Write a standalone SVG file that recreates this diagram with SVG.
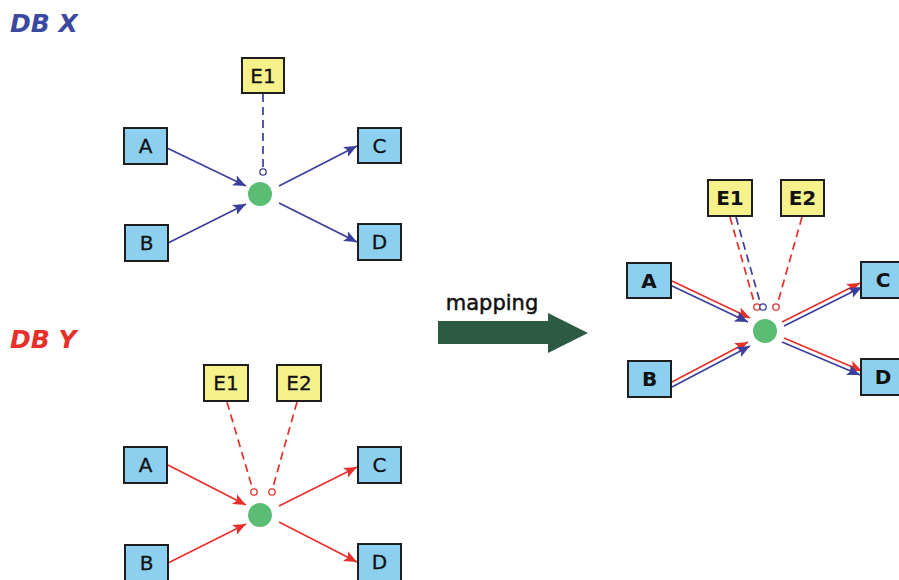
<svg xmlns="http://www.w3.org/2000/svg" width="899" height="580" viewBox="0 0 899 580">
<style>
.box{fill:#8ccfee;stroke:#1e1e1e;stroke-width:2}
.ebox{fill:#f6f18b;stroke:#1e1e1e;stroke-width:2}
.lbl{font-family:"DejaVu Sans",sans-serif;font-size:20px;fill:#111;text-anchor:middle;stroke:#111;stroke-width:0.3}
.rl{font-weight:bold;stroke:none}
.hub{fill:#5bbd73}
.bl{stroke:#3a3f9c;stroke-width:1.7;fill:none}
.rd{stroke:#e8302a;stroke-width:1.7;fill:none}
.dash{stroke-dasharray:8,5}
.oc{fill:#fff;stroke-width:1.3}
.title{font-family:"DejaVu Sans",sans-serif;font-size:25px;font-weight:bold;font-style:italic}
</style>
<defs>
<marker id="ab" markerUnits="userSpaceOnUse" markerWidth="15" markerHeight="11" refX="13" refY="5.5" orient="auto"><path d="M0,0 L13,5.5 L0,11 L3,5.5 Z" fill="#3a3f9c"/></marker>
<marker id="ar" markerUnits="userSpaceOnUse" markerWidth="15" markerHeight="11" refX="13" refY="5.5" orient="auto"><path d="M0,0 L13,5.5 L0,11 L3,5.5 Z" fill="#e8302a"/></marker>
</defs>

<text class="title" x="10" y="32" fill="#3b4aa0">DB X</text>
<text class="title" x="10" y="348" fill="#e8302a">DB Y</text>

<g id="connectors">
<!-- DB X -->
<line class="bl dash" x1="263" y1="94" x2="263" y2="168"/>
<circle class="bl oc" cx="263" cy="172" r="3.2"/>
<line class="bl" x1="167" y1="148" x2="246" y2="186" marker-end="url(#ab)"/>
<line class="bl" x1="168" y1="243" x2="246" y2="204" marker-end="url(#ab)"/>
<line class="bl" x1="279" y1="186" x2="357" y2="146" marker-end="url(#ab)"/>
<line class="bl" x1="279" y1="203" x2="357" y2="242" marker-end="url(#ab)"/>
<!-- DB Y -->
<line class="rd dash" x1="227" y1="402" x2="252" y2="487"/>
<line class="rd dash" x1="297" y1="402" x2="273" y2="487"/>
<circle class="rd oc" cx="254" cy="492" r="3.2"/>
<circle class="rd oc" cx="272" cy="492" r="3.2"/>
<line class="rd" x1="168" y1="465" x2="246" y2="505" marker-end="url(#ar)"/>
<line class="rd" x1="168" y1="563" x2="246" y2="524" marker-end="url(#ar)"/>
<line class="rd" x1="279" y1="506" x2="357" y2="467" marker-end="url(#ar)"/>
<line class="rd" x1="279" y1="522" x2="357" y2="562" marker-end="url(#ar)"/>
<!-- merged -->
<line class="rd dash" x1="730" y1="217" x2="754" y2="302"/>
<line class="bl dash" x1="736" y1="217" x2="760" y2="302"/>
<line class="rd dash" x1="802" y1="217" x2="778" y2="302"/>
<circle class="rd oc" cx="757" cy="307" r="3.2"/>
<circle class="bl oc" cx="763" cy="307" r="3.2"/>
<circle class="rd oc" cx="776" cy="307" r="3.2"/>
<line class="rd" x1="672" y1="281" x2="750" y2="318" marker-end="url(#ar)"/>
<line class="bl" x1="670" y1="285" x2="748" y2="322" marker-end="url(#ab)"/>
<line class="rd" x1="670" y1="383" x2="748" y2="342" marker-end="url(#ar)"/>
<line class="bl" x1="672" y1="387" x2="750" y2="346" marker-end="url(#ab)"/>
<line class="rd" x1="782" y1="322" x2="860" y2="283" marker-end="url(#ar)"/>
<line class="bl" x1="784" y1="326" x2="862" y2="287" marker-end="url(#ab)"/>
<line class="rd" x1="784" y1="338" x2="862" y2="371" marker-end="url(#ar)"/>
<line class="bl" x1="782" y1="342" x2="860" y2="375" marker-end="url(#ab)"/>
</g>

<g id="mapping">
<text x="492" y="310" font-family="DejaVu Sans,sans-serif" font-size="21" fill="#111" stroke="#111" stroke-width="0.5" text-anchor="middle">mapping</text>
<path d="M438,321 L548,321 L548,313 L588,333 L548,353 L548,344 L438,344 Z" fill="#2c5a42"/>
</g>

<!-- DB X nodes -->
<g id="x-hub"><circle class="hub" cx="260" cy="194" r="12"/></g>
<g id="x-E1"><rect class="ebox" x="242" y="58" width="42" height="35"/><text class="lbl" x="263" y="83">E1</text></g>
<g id="x-A"><rect class="box" x="124" y="128" width="43" height="36"/><text class="lbl" x="145.5" y="153">A</text></g>
<g id="x-B"><rect class="box" x="125" y="225" width="43" height="36"/><text class="lbl" x="146.5" y="250">B</text></g>
<g id="x-C"><rect class="box" x="358" y="128" width="43" height="35"/><text class="lbl" x="379.5" y="153">C</text></g>
<g id="x-D"><rect class="box" x="358" y="224" width="43" height="36"/><text class="lbl" x="379.5" y="249">D</text></g>

<!-- DB Y nodes -->
<g id="y-hub"><circle class="hub" cx="260" cy="515" r="12"/></g>
<g id="y-E1"><rect class="ebox" x="204" y="365" width="44" height="36"/><text class="lbl" x="226" y="390">E1</text></g>
<g id="y-E2"><rect class="ebox" x="277" y="365" width="44" height="36"/><text class="lbl" x="299" y="390">E2</text></g>
<g id="y-A"><rect class="box" x="124" y="447" width="43" height="36"/><text class="lbl" x="145.5" y="472">A</text></g>
<g id="y-B"><rect class="box" x="125" y="545" width="43" height="36"/><text class="lbl" x="146.5" y="570">B</text></g>
<g id="y-C"><rect class="box" x="358" y="447" width="43" height="36"/><text class="lbl" x="379.5" y="472">C</text></g>
<g id="y-D"><rect class="box" x="358" y="544" width="43" height="37"/><text class="lbl" x="379.5" y="569">D</text></g>

<!-- merged nodes -->
<g id="m-hub"><circle class="hub" cx="765" cy="331" r="12"/></g>
<g id="m-E1"><rect class="ebox" x="708" y="180" width="44" height="36"/><text class="lbl rl" x="730" y="205">E1</text></g>
<g id="m-E2"><rect class="ebox" x="781" y="180" width="43" height="36"/><text class="lbl rl" x="802.5" y="205">E2</text></g>
<g id="m-A"><rect class="box" x="627" y="263" width="44" height="35"/><text class="lbl rl" x="649" y="288">A</text></g>
<g id="m-B"><rect class="box" x="628" y="361" width="43" height="36"/><text class="lbl rl" x="649.5" y="386">B</text></g>
<g id="m-C"><rect class="box" x="861" y="262" width="44" height="36"/><text class="lbl rl" x="883" y="287">C</text></g>
<g id="m-D"><rect class="box" x="861" y="359" width="44" height="36"/><text class="lbl rl" x="883" y="384">D</text></g>
</svg>
